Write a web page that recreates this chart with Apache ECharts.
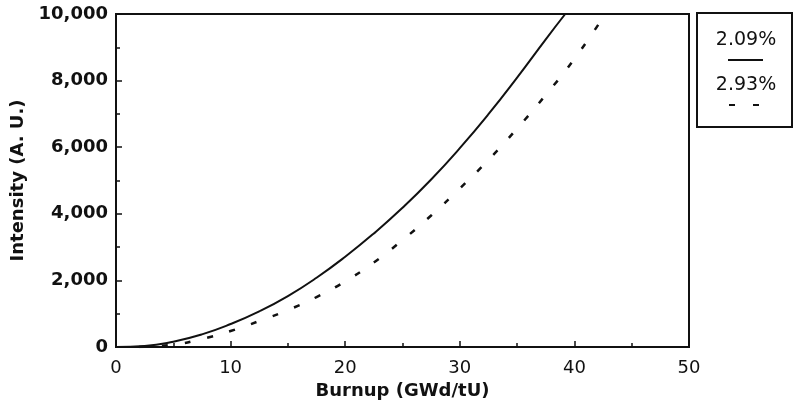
<!DOCTYPE html>
<html>
<head>
<meta charset="utf-8">
<script src="https://cdn.jsdelivr.net/npm/echarts@6/dist/echarts.min.js"></script>
<style>html,body{margin:0;padding:0;background:#fff;}#c{width:798px;height:406px;}</style>
</head>
<body>
<div id="c"></div>
<script>
// Data
const burnupSolid = [0, 2.5, 5, 7.5, 10, 12.5, 15, 17.5, 20, 22.5, 25, 27.5, 30, 32.5, 35, 37.5, 39.2];
const intensitySolid = [0, 30, 160, 380, 690, 1070, 1530, 2080, 2710, 3410, 4180, 5030, 5970, 6990, 8090, 9240, 10000];
const burnupDashed = [2, 5, 7.5, 10, 12.5, 15, 17.5, 20, 22.5, 25, 27.5, 30, 32.5, 35, 37.5, 40, 42.7];
const intensityDashed = [0, 70, 240, 480, 780, 1110, 1500, 1970, 2540, 3210, 3950, 4760, 5620, 6560, 7570, 8650, 10000];
const seriesNames = ['2.09%', '2.93%'];
const xName = 'Burnup (GWd/tU)';
const yName = 'Intensity (A. U.)';

const pair = (xs, ys) => xs.map((x, i) => [x, ys[i]]);
const ink = '#111';
const chart = echarts.init(document.getElementById('c'), null, {renderer: 'canvas'});
chart.setOption({
  backgroundColor: '#fff',
  animation: false,
  grid: {left: 116, right: 109, top: 14, bottom: 59, show: true, borderColor: ink, borderWidth: 2, backgroundColor: 'transparent'},
  xAxis: {
    type: 'value', min: 0, max: 50, interval: 10,
    name: xName, nameLocation: 'middle', nameGap: 32,
    nameTextStyle: {fontFamily: 'DejaVu Sans', fontWeight: 'bold', fontSize: 18, color: ink},
    axisLine: {lineStyle: {color: ink, width: 2}},
    axisTick: {inside: true, length: 6, lineStyle: {color: ink, width: 1.5}},
    minorTick: {show: true, splitNumber: 2, length: 4, lineStyle: {color: ink, width: 1.5}},
    axisLabel: {fontFamily: 'DejaVu Sans', fontSize: 18, color: ink, margin: 12},
    splitLine: {show: false}
  },
  yAxis: {
    type: 'value', min: 0, max: 10000, interval: 2000,
    name: yName, nameLocation: 'middle', nameGap: 88, nameRotate: 90,
    nameTextStyle: {fontFamily: 'DejaVu Sans', fontWeight: 'bold', fontSize: 18, color: ink},
    axisLine: {lineStyle: {color: ink, width: 2}},
    axisTick: {inside: true, length: 6, lineStyle: {color: ink, width: 1.5}},
    minorTick: {show: true, splitNumber: 2, length: 4, lineStyle: {color: ink, width: 1.5}},
    axisLabel: {fontFamily: 'DejaVu Sans', fontWeight: 'bold', fontSize: 18, color: ink, margin: 8},
    splitLine: {show: false}
  },
  series: [
    {name: seriesNames[0], type: 'line', data: pair(burnupSolid, intensitySolid), smooth: 0.5, showSymbol: false,
     lineStyle: {color: ink, width: 2}},
    {name: seriesNames[1], type: 'line', data: pair(burnupDashed, intensityDashed), smooth: 0.5, showSymbol: false,
     lineStyle: {color: ink, width: 2.5, type: [6, 17]}}
  ],
  graphic: [
    {type: 'rect', shape: {x: 697, y: 13, width: 95, height: 114}, style: {fill: '#fff', stroke: ink, lineWidth: 2}},
    {type: 'text', x: 746, y: 40, style: {text: seriesNames[0], fontFamily: 'DejaVu Sans', fontSize: 19, fill: ink, textAlign: 'center', textVerticalAlign: 'middle'}},
    {type: 'line', shape: {x1: 728, y1: 60, x2: 763, y2: 60}, style: {stroke: ink, lineWidth: 2}},
    {type: 'text', x: 746, y: 85, style: {text: seriesNames[1], fontFamily: 'DejaVu Sans', fontSize: 19, fill: ink, textAlign: 'center', textVerticalAlign: 'middle'}},
    {type: 'line', shape: {x1: 729, y1: 105, x2: 759, y2: 105}, style: {stroke: ink, lineWidth: 2, lineDash: [6, 18]}}
  ]
});
</script>
</body>
</html>
